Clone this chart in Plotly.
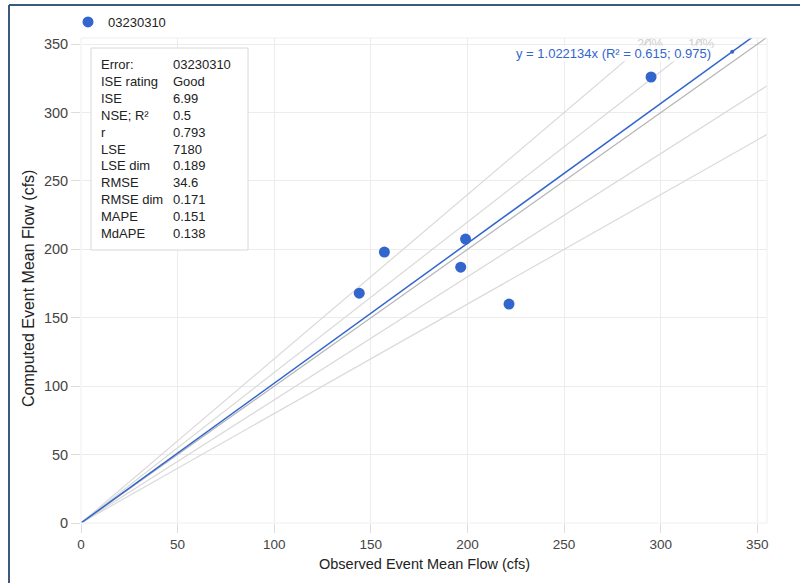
import plotly.graph_objects as go

# ---- data ----
site = "03230310"
observed = [144, 157, 196.5, 199, 221.5, 295]
computed = [168, 198, 187, 207.5, 160, 326]
ratio_lines = [0.8, 0.9, 1.0, 1.1, 1.2]
ratio_labels = ["20%", "10%"]
slope = 1.022134
trend_label = "y = 1.022134x (R² = 0.615; 0.975)"
stat_names = ["Error:", "ISE rating", "ISE", "NSE; R²", "r", "LSE", "LSE dim",
              "RMSE", "RMSE dim", "MAPE", "MdAPE"]
stat_values = ["03230310", "Good", "6.99", "0.5", "0.793", "7180", "0.189",
               "34.6", "0.171", "0.151", "0.138"]
ticks = [0, 50, 100, 150, 200, 250, 300, 350]
x_title = "Observed Event Mean Flow (cfs)"
y_title = "Computed Event Mean Flow (cfs)"
x_max = 355
y_max = 354.5

FONT = "Arial, Liberation Sans, sans-serif"
BLUE = "#3366cc"

# plot area in pixels (for paper-coordinate helpers)
L, R, T, B = 81, 767, 38, 523
W_, H_ = R - L, B - T


def px(x):
    return (x - L) / W_


def py(y):
    return (B - y) / H_


fig = go.Figure()

ext = [0, 400]
for r in ratio_lines:
    fig.add_trace(go.Scatter(
        x=ext, y=[r * v for v in ext], mode="lines",
        line=dict(color="#b5b5b5" if r == 1.0 else "#d9d9d9", width=1.2),
        showlegend=False, hoverinfo="skip"))

fig.add_trace(go.Scatter(
    x=ext, y=[slope * v for v in ext], mode="lines",
    line=dict(color=BLUE, width=1.5), showlegend=False, hoverinfo="skip"))

fig.add_trace(go.Scatter(
    x=[337], y=[slope * 337], mode="markers",
    marker=dict(color=BLUE, size=4), showlegend=False, hoverinfo="skip"))

fig.add_trace(go.Scatter(
    x=observed, y=computed, mode="markers", name=site,
    marker=dict(color=BLUE, size=11)))

# ratio labels near top (partly hidden behind the trend label)
for lab, xp in zip(ratio_labels, [665, 716]):
    fig.add_annotation(x=px(xp), y=py(44), xref="paper", yref="paper",
                       yanchor="middle", text=lab, showarrow=False,
                       font=dict(family=FONT, size=13, color="#d0d0d0"))

fig.add_annotation(x=px(712), y=py(53), xref="paper", yref="paper",
                   xanchor="right", yanchor="middle", text=trend_label, showarrow=False,
                   bgcolor="rgba(255,255,255,0.85)", borderpad=0,
                   font=dict(family=FONT, size=13, color=BLUE))

# stats box
fig.add_shape(type="rect", xref="paper", yref="paper",
              x0=px(91), x1=px(248), y0=py(250), y1=py(48),
              line=dict(color="#d8d8d8", width=1), fillcolor="white", layer="above")
fig.add_annotation(x=px(100), y=py(56), xref="paper", yref="paper",
                   xanchor="left", yanchor="top", align="left", borderpad=0,
                   text="<br>".join(stat_names), showarrow=False,
                   font=dict(family=FONT, size=13, color="#222"))
fig.add_annotation(x=px(172), y=py(56), xref="paper", yref="paper",
                   xanchor="left", yanchor="top", align="left", borderpad=0,
                   text="<br>".join(stat_values), showarrow=False,
                   font=dict(family=FONT, size=13, color="#222"))

# axis titles
fig.add_annotation(x=px(424), y=py(564), xref="paper", yref="paper",
                   xanchor="center", yanchor="middle", text=x_title, showarrow=False,
                   font=dict(family=FONT, size=14.5, color="#222"))
fig.add_annotation(x=px(28), y=py(289), xref="paper", yref="paper",
                   xanchor="center", yanchor="middle", textangle=-90,
                   text=y_title, showarrow=False,
                   font=dict(family=FONT, size=16, color="#222"))

# frame lines (dark blue border)
fig.add_shape(type="line", xref="paper", yref="paper",
              x0=px(9), x1=px(9), y0=py(5), y1=py(583),
              line=dict(color="#3b5a80", width=2))
fig.add_shape(type="line", xref="paper", yref="paper",
              x0=px(9), x1=px(800), y0=py(5), y1=py(5),
              line=dict(color="#3b5a80", width=2))
# plot area border
fig.add_shape(type="rect", xref="paper", yref="paper", x0=0, x1=1, y0=0, y1=1,
              line=dict(color="#eeeeee", width=1))

axis_common = dict(
    tickvals=ticks, ticks="outside", ticklen=9, tickcolor="#dddddd",
    showgrid=True, gridcolor="#ececec", zeroline=False, showline=False,
    automargin=False,
)
fig.update_xaxes(range=[0, x_max],
                 tickfont=dict(family=FONT, size=13.5, color="#444"),
                 **axis_common)
fig.update_yaxes(range=[0, y_max],
                 tickfont=dict(family=FONT, size=14.5, color="#444"),
                 **axis_common)

fig.update_layout(
    width=800, height=583,
    margin=dict(l=L, r=800 - R, t=T, b=583 - B, autoexpand=False),
    paper_bgcolor="white", plot_bgcolor="white",
    font=dict(family=FONT),
    showlegend=True,
    legend=dict(orientation="h", x=px(68), y=py(22), xanchor="left", yanchor="middle",
                font=dict(family=FONT, size=13, color="#222"),
                itemwidth=30, bgcolor="rgba(0,0,0,0)"),
)

fig.write_html("out.html", config={"displayModeBar": False},
               post_script="document.body.style.margin='0';document.body.style.overflow='hidden';")
